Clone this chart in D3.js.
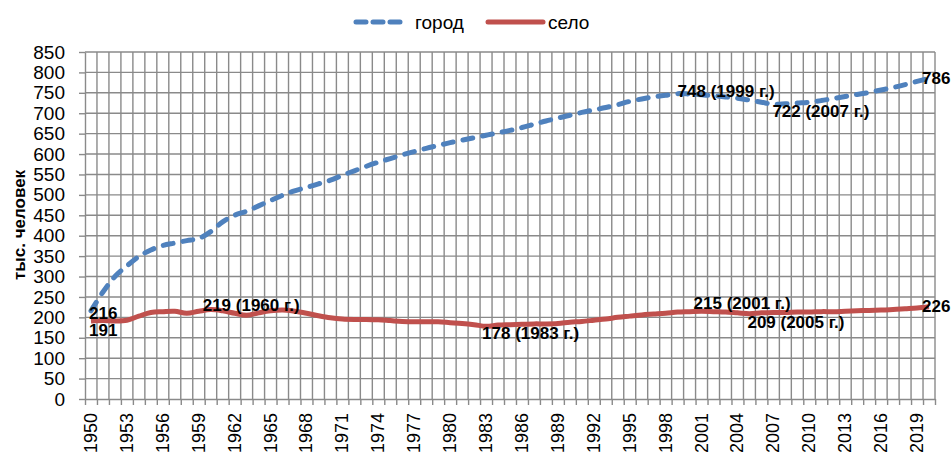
<!DOCTYPE html>
<html>
  <head>
    <meta charset="utf-8" />
    <script src="https://d3js.org/d3.v7.min.js"></script>
    <style>
      body { margin: 0; background: #fff; }
      svg { font-family: "Liberation Sans", Arial, sans-serif; }
      .grid line { stroke: #8a8a8a; stroke-width: 1.4px; }
      .axis path, .axis line { stroke: #8a8a8a; stroke-width: 1.4px; }
      .axis text { fill: #000; }
      .lbl { font-weight: bold; font-size: 17px; fill: #000; }
    </style>
  </head>
  <body>
    <svg id="chart" width="951" height="453"></svg>
  <script>

  // years 1950..2020
  var years = d3.range(1950, 2021);

  var city = [216, 262, 300, 326, 349, 365, 376, 382, 388, 393,
              410, 434, 450, 460, 473, 486, 499, 510, 518, 527,
              536, 548, 559, 570, 580, 589, 598, 606, 614, 621,
              628, 634, 640, 646, 652, 658, 665, 673, 681, 688,
              695, 702, 708, 714, 721, 729, 735, 740, 744, 748,
              747, 745, 743, 740, 737, 732, 727, 722, 723, 725,
              727, 731, 736, 741, 746, 751, 757, 763, 770, 778,
              786];

  var rural = [191, 192, 191, 193, 203, 212, 214, 215, 210, 215,
               219, 216, 210, 205, 211, 216, 218, 215, 210, 204,
               199, 196, 195, 195, 194, 192, 190, 189, 189, 189,
               187, 185, 182, 178, 181, 182, 183, 184, 184, 185,
               188, 190, 193, 196, 200, 203, 206, 208, 210, 213,
               214, 215, 214, 213, 211, 209, 211, 212, 212, 213,
               213, 214, 214, 215, 216, 217, 218, 219, 221, 223,
               226];

  var seriesNames = ["город", "село"];
  var yTicks = d3.range(0, 851, 50);
  var xLabelYears = d3.range(1950, 2020, 3);

  // labelled points: series index, year, text
  var labels = [
    [0, 1950, "216"],
    [1, 1950, "191"],
    [1, 1960, "219 (1960 г.)"],
    [1, 1983, "178 (1983 г.)"],
    [1, 2001, "215 (2001 г.)"],
    [1, 2005, "209 (2005 г.)"],
    [1, 2020, "226"],
    [0, 1999, "748 (1999 г.)"],
    [0, 2007, "722 (2007 г.)"],
    [0, 2020, "786"]
  ];
  // label offsets from their points, same order
  var labelOffsets = [
    [-2, 8], [-2, 15], [-8, 1], [-4, 13], [-8, -2],
    [-2, 14], [-7, 5], [0, 3], [-1, 13], [-7, 6]
  ];

  var colors = ["#4F81BD", "#C0504D"];
  var allSeries = [city, rural];

  var svg = d3.select("#chart");
  var plotLeft = 85, plotRight = 935, plotTop = 52, plotBottom = 399;

  var x = d3.scaleLinear().domain([1949.5, 2020.5]).range([plotLeft, plotRight]);
  var y = d3.scaleLinear().domain([0, 850]).range([plotBottom, plotTop]);

  // gridlines
  var grid = svg.append("g").attr("class", "grid");
  grid.selectAll(".h").data(yTicks.slice(1)).enter().append("line")
    .attr("x1", plotLeft).attr("x2", plotRight)
    .attr("y1", function(d) { return y(d); })
    .attr("y2", function(d) { return y(d); });
  grid.selectAll(".v").data(d3.range(1950.5, 2021, 1)).enter().append("line")
    .attr("y1", plotTop).attr("y2", plotBottom)
    .attr("x1", function(d) { return x(d); })
    .attr("x2", function(d) { return x(d); });

  // y axis
  var yAxis = svg.append("g").attr("class", "axis")
    .attr("transform", "translate(" + plotLeft + ",0)")
    .call(d3.axisLeft(y).tickValues(yTicks).tickSize(6).tickSizeOuter(0).tickPadding(14));
  yAxis.selectAll("text").style("font-size", "19px").style("font-family", "Liberation Sans, Arial, sans-serif");

  // x axis: ticks at category boundaries
  svg.append("g").attr("class", "axis")
    .attr("transform", "translate(0," + plotBottom + ")")
    .call(d3.axisBottom(x).tickValues(d3.range(1949.5, 2021, 1)).tickSize(6).tickSizeOuter(0).tickFormat(""));

  svg.append("g").selectAll("text").data(xLabelYears).enter().append("text")
    .attr("transform", function(d) { return "translate(" + (x(d) + 6) + ",413) rotate(-90)"; })
    .attr("text-anchor", "end")
    .style("font-size", "18px")
    .text(function(d) { return d; });

  // axis title
  svg.append("text")
    .attr("transform", "translate(25,225) rotate(-90)")
    .attr("text-anchor", "middle")
    .style("font-size", "17px").style("font-weight", "bold")
    .text("тыс. человек");

  // lines
  var line = d3.line()
    .x(function(d, i) { return x(years[i]); })
    .y(function(d) { return y(d); })
    .curve(d3.curveCatmullRom.alpha(0));

  svg.append("path").datum(rural)
    .attr("d", line)
    .attr("fill", "none")
    .attr("stroke", colors[1])
    .attr("stroke-width", 5)
    .attr("stroke-linejoin", "round");

  svg.append("path").datum(city)
    .attr("d", line)
    .attr("fill", "none")
    .attr("stroke", colors[0])
    .attr("stroke-width", 5)
    .attr("stroke-dasharray", "10,10")
    .attr("stroke-linecap", "round");

  // data labels
  svg.append("g").selectAll("text").data(labels).enter().append("text")
    .attr("class", "lbl")
    .attr("x", function(d, i) { return x(d[1]) + labelOffsets[i][0]; })
    .attr("y", function(d, i) { return y(allSeries[d[0]][d[1] - 1950]) + labelOffsets[i][1]; })
    .text(function(d) { return d[2]; });

  // legend
  var legend = svg.append("g");
  legend.append("line")
    .attr("x1", 356).attr("x2", 401).attr("y1", 22).attr("y2", 22)
    .attr("stroke", colors[0]).attr("stroke-width", 5)
    .attr("stroke-dasharray", "10,7").attr("stroke-linecap", "round");
  legend.append("text").attr("x", 415).attr("y", 29).style("font-size", "19px").text(seriesNames[0]);
  legend.append("line")
    .attr("x1", 488).attr("x2", 543).attr("y1", 22).attr("y2", 22)
    .attr("stroke", colors[1]).attr("stroke-width", 5).attr("stroke-linecap", "round");
  legend.append("text").attr("x", 548).attr("y", 29).style("font-size", "19px").text(seriesNames[1]);

  </script>
  </body>
</html>
